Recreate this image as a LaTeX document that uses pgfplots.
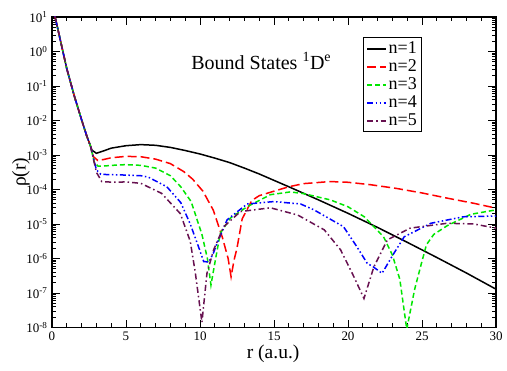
\documentclass[border=0pt]{standalone}
\usepackage{fontspec}
\setmainfont{Liberation Serif}
\usepackage{pgfplots}
\pgfplotsset{compat=1.18}
\definecolor{cred}{RGB}{255,0,0}
\definecolor{cgreen}{RGB}{0,230,0}
\definecolor{cblue}{RGB}{0,0,255}
\definecolor{cmaroon}{RGB}{103,17,80}
\begin{document}
\begin{tikzpicture}
\useasboundingbox (0pt,0pt) rectangle (507pt,371pt);
\begin{axis}[
  at={(52pt,43.5pt)}, anchor=south west,
  scale only axis, width=444pt, height=310.5pt,
  xmin=0, xmax=30, ymin=1e-8, ymax=10, ymode=log,
  xtick={0,5,10,15,20,25,30},
  xticklabels={0,5,10,15,20,25,30},
  minor x tick num=4,
  ytick={1e-8,1e-7,1e-6,1e-5,1e-4,1e-3,1e-2,1e-1,1,10},
  yticklabels={10\textsuperscript{-8},10\textsuperscript{-7},10\textsuperscript{-6},10\textsuperscript{-5},10\textsuperscript{-4},10\textsuperscript{-3},10\textsuperscript{-2},10\textsuperscript{-1},10\textsuperscript{0},10\textsuperscript{1}},
  minor ytick={2e-8,3e-8,4e-8,5e-8,6e-8,7e-8,8e-8,9e-8,
               2e-7,3e-7,4e-7,5e-7,6e-7,7e-7,8e-7,9e-7,
               2e-6,3e-6,4e-6,5e-6,6e-6,7e-6,8e-6,9e-6,
               2e-5,3e-5,4e-5,5e-5,6e-5,7e-5,8e-5,9e-5,
               2e-4,3e-4,4e-4,5e-4,6e-4,7e-4,8e-4,9e-4,
               2e-3,3e-3,4e-3,5e-3,6e-3,7e-3,8e-3,9e-3,
               2e-2,3e-2,4e-2,5e-2,6e-2,7e-2,8e-2,9e-2,
               2e-1,3e-1,4e-1,5e-1,6e-1,7e-1,8e-1,9e-1,
               2,3,4,5,6,7,8,9},
  tick align=inside,
  major tick length=8pt, minor tick length=4pt,
  every tick/.style={black, line width=0.9pt},
  axis line style={line width=1.3pt},
  tick label style={font=\fontsize{13}{13}\selectfont},
  xticklabel style={yshift=-1pt},
  yticklabel style={xshift=-1pt},
  xlabel={r (a.u.)}, ylabel={ρ(r)},
  label style={font=\fontsize{19.5}{19.5}\selectfont},
  xlabel style={at={(axis description cs:0.498,-0.084)}, anchor=center},
  ylabel style={at={(axis description cs:-0.070,0.5)}, anchor=center},
  legend cell align=left,
  legend style={at={(axis description cs:0.700,0.935)}, anchor=north west,
    draw=black, line width=0.8pt, font=\fontsize{18}{18}\selectfont,
    inner xsep=3pt, inner ysep=2pt, row sep=0pt,
    nodes={text height=12pt, text depth=3pt, inner sep=1.5pt}},
  legend image code/.code={\draw[line width=2pt,#1] (0pt,0pt) -- (19pt,0pt);},
  every axis plot/.append style={line width=1.5pt},
]
\addplot[black, solid] coordinates {
(0,25.1) (0.5,2.82) (1.0,0.316) (1.5,5.25e-2) (2.0,1.047e-2) (2.35,3.55e-3) (2.6,1.82e-3)
(2.7,1.38e-3) (3.0,1.12e-3) (3.5,1.32e-3) (4,1.58e-3) (5,1.86e-3) (6,2.0e-3) (7,1.91e-3)
(8,1.66e-3) (9,1.35e-3) (10,1.07e-3) (11,8.13e-4) (12,6.03e-4) (13,4.17e-4) (14,2.82e-4)
(16,1.20e-4) (18,5.01e-5) (20,2.04e-5) (22,7.94e-6) (24,2.95e-6) (26,1.07e-6) (28,3.80e-7) (30,1.29e-7)
};
\addlegendentry{n=1}
\addplot[cred, dash pattern=on 9pt off 4pt] coordinates {
(0,25.1) (0.5,2.82) (1.0,0.316) (1.5,5.25e-2) (2.0,1.047e-2) (2.35,3.55e-3) (2.6,1.82e-3)
(2.8,8.91e-4) (3.1,6.92e-4) (3.5,7.41e-4) (4,8.32e-4) (5,9.12e-4) (6,8.91e-4) (7,7.59e-4)
(8,5.62e-4) (8.9,3.31e-4) (9.5,2.0e-4) (10.2,8.91e-5) (10.9,2.51e-5) (11.5,4.27e-6)
(11.9,1.0e-6) (12.1,2.95e-7) (12.3,8.91e-7) (12.5,2.0e-6) (12.85,1.41e-5) (13.5,4.79e-5)
(14.0,6.61e-5) (14.76,8.32e-5) (16,1.20e-4) (17,1.48e-4) (18.8,1.70e-4) (20,1.62e-4)
(21.5,1.38e-4) (23.3,1.07e-4) (25,7.94e-5) (26.7,5.62e-5) (28.5,3.98e-5) (30,2.88e-5)
};
\addlegendentry{n=2}
\addplot[cgreen, dash pattern=on 5pt off 3pt] coordinates {
(0,25.1) (0.5,2.82) (1.0,0.316) (1.5,5.25e-2) (2.0,1.047e-2) (2.35,3.55e-3) (2.6,1.82e-3)
(2.85,6.31e-4) (3.1,4.79e-4) (3.5,4.79e-4) (4.4,5.13e-4) (5,5.25e-4) (6,5.01e-4) (7,4.17e-4)
(8,2.51e-4) (8.7,1.20e-4) (9.4,4.47e-5) (10.13,5.01e-6) (10.5,1.0e-6) (10.74,1.70e-7)
(11.04,9.12e-7) (11.37,5.37e-6) (12.05,1.48e-5) (13.18,3.16e-5) (14.76,7.08e-5) (16.1,8.51e-5)
(17,7.59e-5) (18.8,5.01e-5) (20,3.16e-5) (21.1,1.62e-5) (22.4,4.27e-6) (23.0,1.26e-6)
(23.5,2.51e-7) (23.97,8.91e-9) (24.5,1.26e-7) (24.9,5.75e-7) (25.3,2.51e-6) (25.8,5.01e-6)
(26.7,8.91e-6) (28.3,1.91e-5) (30,2.57e-5)
};
\addlegendentry{n=3}
\addplot[cblue, dash pattern=on 6pt off 2.5pt on 1.5pt off 2.5pt on 1.5pt off 2.5pt] coordinates {
(0,25.1) (0.5,2.82) (1.0,0.316) (1.5,5.25e-2) (2.0,1.047e-2) (2.35,3.55e-3) (2.6,1.82e-3)
(3.0,3.72e-4) (3.3,2.75e-4) (4,2.69e-4) (4.83,2.63e-4) (6,2.51e-4) (6.5,2.29e-4) (7.76,1.20e-4)
(8.7,4.17e-5) (9.34,1.0e-5) (9.9,2.19e-6) (10.25,8.13e-7) (10.6,7.94e-7) (10.9,1.41e-6)
(11.15,2.75e-6) (11.83,1.32e-5) (13.18,3.80e-5) (15.0,4.47e-5) (16.8,3.80e-5) (17.7,2.57e-5)
(19.7,8.32e-6) (20.6,2.19e-6) (21.3,7.24e-7) (21.7,5.75e-7) (22.3,3.72e-7) (23.1,1.41e-6)
(23.8,4.27e-6) (25.6,1.05e-5) (27.8,1.62e-5) (30,1.70e-5)
};
\addlegendentry{n=4}
\addplot[cmaroon, dash pattern=on 6pt off 3pt on 1.5pt off 3pt] coordinates {
(0,25.1) (0.5,2.82) (1.0,0.316) (1.5,5.25e-2) (2.0,1.047e-2) (2.35,3.55e-3) (2.6,1.82e-3)
(3.0,3.16e-4) (3.36,1.70e-4) (4.15,1.62e-4) (5,1.66e-4) (6,1.51e-4) (7.4,7.76e-5) (8.67,2.0e-5)
(9.34,3.16e-6) (9.68,3.98e-7) (10.13,1.41e-8) (10.47,3.72e-7) (10.92,1.78e-6) (11.6,8.32e-6)
(12.73,2.29e-5) (14.76,2.95e-5) (16.6,1.82e-5) (18.4,6.76e-6) (19.5,1.78e-6) (20.4,2.95e-7)
(21.08,6.92e-8) (21.75,5.75e-7) (22.66,3.47e-6) (24.2,7.59e-6) (26.7,1.05e-5) (28.5,1.0e-5) (30,7.59e-6)
};
\addlegendentry{n=5}
\node[anchor=west, font=\fontsize{20}{20}\selectfont] at (axis description cs:0.306,0.858)
  {Bound States \textsuperscript{1}D\textsuperscript{e}};
\end{axis}
\end{tikzpicture}
\end{document}
